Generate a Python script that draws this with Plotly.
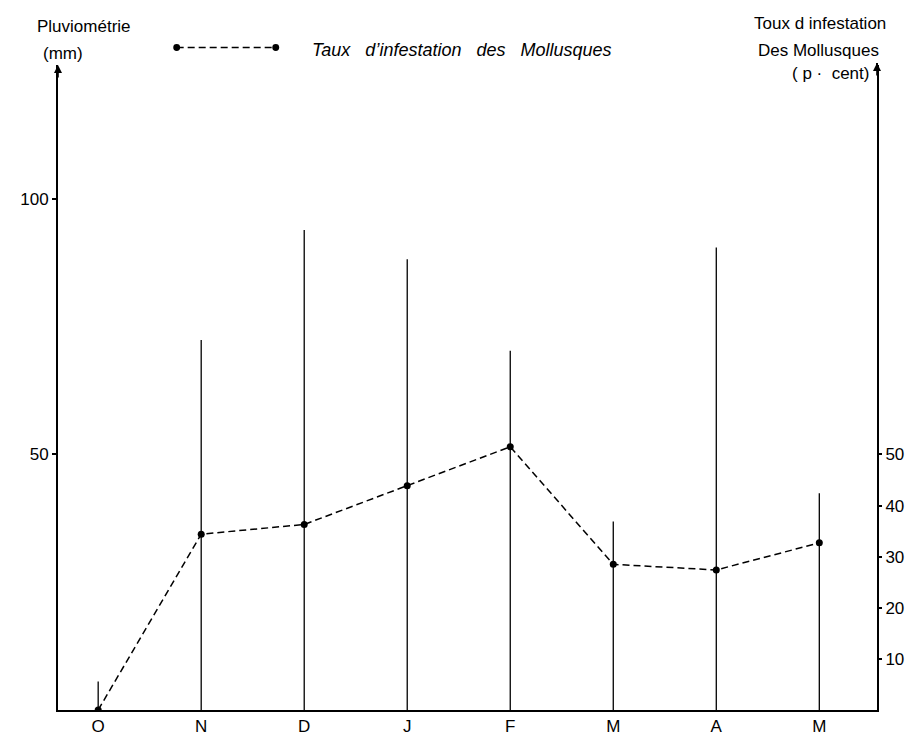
import plotly.graph_objects as go

# ---- data ----
months = ["O", "N", "D", "J", "F", "M", "A", "M"]
pluviometrie_mm = [5.6, 72.4, 93.9, 88.2, 70.3, 36.9, 90.5, 42.4]
infestation_pct = [0.0, 34.4, 36.3, 43.9, 51.5, 28.5, 27.4, 32.7]
left_ticks = [50, 100]
right_ticks = [10, 20, 30, 40, 50]

# the page body adds an 8px margin; size the figure so screen positions match
OFF = 8
W, H = 916 - OFF, 748 - OFF
ML, MT = 51 - OFF, 65 - OFF
MB = 748 - 729
MR = 916 - 886
FONT = "Liberation Sans"

xpos = list(range(len(months)))

def px(x, y):
    """screen pixel -> paper coords"""
    x -= OFF
    y -= OFF
    return (x - ML) / (W - ML - MR), (H - MB - y) / (H - MT - MB)

# rainfall as thin vertical lines
vx, vy = [], []
for i, v in zip(xpos, pluviometrie_mm):
    vx += [i, i, None]
    vy += [0, v, None]

fig = go.Figure()
fig.add_trace(go.Scatter(x=vx, y=vy, mode="lines",
                         line=dict(color="black", width=1.3),
                         hoverinfo="skip", showlegend=False))
fig.add_trace(go.Scatter(x=xpos, y=infestation_pct, mode="lines+markers",
                         yaxis="y2",
                         line=dict(color="black", width=1.5, dash="7px,4px"),
                         marker=dict(color="black", size=7),
                         showlegend=False))

YR = [0, 126.2]
fig.update_layout(
    width=W, height=H,
    margin=dict(l=ML, r=MR, t=MT, b=MB),
    paper_bgcolor="white", plot_bgcolor="white",
    font=dict(family=FONT, color="black", size=17),
    xaxis=dict(range=[-0.39, 7.56], tickvals=xpos, ticktext=months,
               showgrid=False, zeroline=False, showline=True,
               linecolor="black", linewidth=2, ticks="",
               tickfont=dict(size=17, family=FONT)),
    yaxis=dict(range=YR, tickvals=left_ticks, showgrid=False, zeroline=False,
               showline=True, linecolor="black", linewidth=2,
               ticks="outside", ticklen=4, tickwidth=1.5, tickcolor="black",
               tickfont=dict(size=17, family=FONT)),
    yaxis2=dict(range=YR, overlaying="y", side="right", tickvals=right_ticks,
                showgrid=False, zeroline=False, showline=True,
                linecolor="black", linewidth=2,
                ticks="outside", ticklen=3, tickwidth=1.5, tickcolor="black",
                tickfont=dict(size=17, family=FONT)),
)

annotations = []
def text(s, x, y, size=17, italic=False):
    xp, yp = px(x, y)
    annotations.append(dict(text=s, x=xp, y=yp, xref="paper", yref="paper",
                            showarrow=False, xanchor="center", yanchor="middle",
                            font=dict(size=size, family=FONT, color="black",
                                      style="italic" if italic else "normal")))

text("Pluviométrie", 77, 25)
text("(mm)", 56, 53)
text("Toux d infestation", 828, 22)
text("Des Mollusques", 826, 50)
text("( p \u00b7  cent)", 839, 74)
text("Taux\u00a0\u00a0 d\u2019infestation\u00a0\u00a0 des\u00a0\u00a0 Mollusques", 463, 50, size=18, italic=True)

# axis arrows
for (xa, ya) in [(51, 65), (886, 63)]:
    xp, yp = px(xa, ya)
    annotations.append(dict(x=xp, y=yp, xref="paper", yref="paper",
                            ax=0, ay=14, showarrow=True, arrowhead=2,
                            arrowsize=1, arrowwidth=1.6, arrowcolor="black",
                            text=""))
fig.update_layout(annotations=annotations)

# legend sample (dashed line with dots at both ends)
x0, y0 = px(172, 47)
x1, _ = px(273, 47)
shapes = [dict(type="line", xref="paper", yref="paper", x0=x0, x1=x1, y0=y0, y1=y0,
               line=dict(color="black", width=1.5, dash="7px,4px"))]
for cx in (172, 273):
    a, b = px(cx - 3.5, 47 - 3.5)
    c, d = px(cx + 3.5, 47 + 3.5)
    shapes.append(dict(type="circle", xref="paper", yref="paper",
                       x0=a, x1=c, y0=d, y1=b,
                       fillcolor="black", line=dict(color="black", width=0)))
# right axis extends up to its arrow
xa, ya = px(886, 63)
shapes.append(dict(type="line", xref="paper", yref="paper", x0=1, x1=1, y0=1, y1=ya,
                   line=dict(color="black", width=2)))
fig.update_layout(shapes=shapes)

fig.write_html("out.html")
